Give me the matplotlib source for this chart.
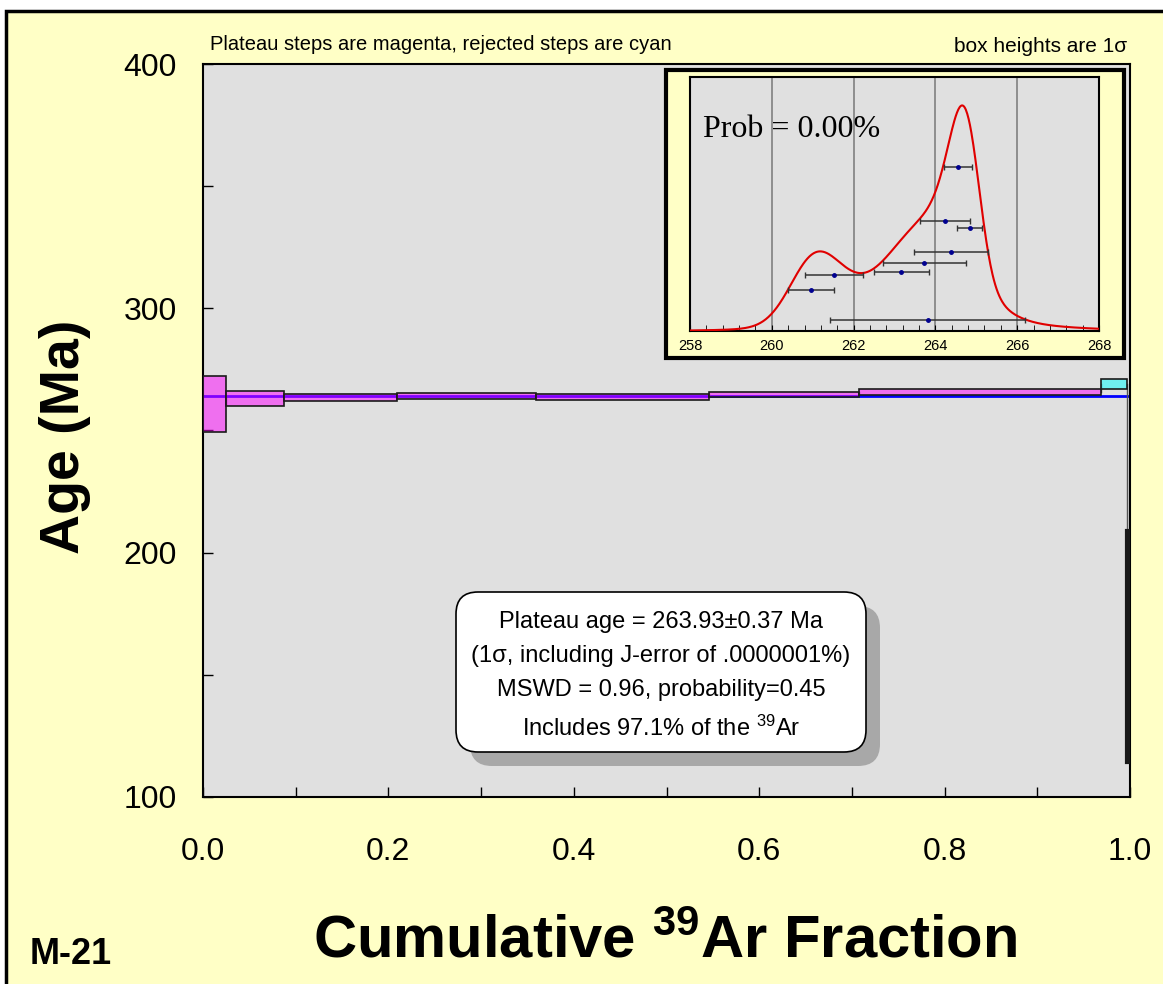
import numpy as np
import matplotlib
matplotlib.use("Agg")
import matplotlib.pyplot as plt
from matplotlib.patches import Rectangle, FancyBboxPatch
from matplotlib.ticker import MultipleLocator, FormatStrFormatter

plt.rcParams['font.family'] = ['Liberation Sans', 'DejaVu Sans']
plt.rcParams['mathtext.fontset'] = 'custom'
plt.rcParams['mathtext.rm'] = 'Liberation Sans'
plt.rcParams['mathtext.bf'] = 'Liberation Sans:bold'
plt.rcParams['mathtext.it'] = 'Liberation Sans:italic'

# step heating spectrum (cumulative 39Ar edges, age, 1 sigma)
cum_edges = [0.0, 0.0245, 0.0877, 0.2093, 0.3589, 0.5458, 0.7073, 0.9684, 0.9964, 1.0]
step_age = [260.8, 263.1, 263.45, 264.2, 263.75, 264.83, 265.8, 269.06, 161.5]
step_sig = [11.4, 2.9, 1.5, 1.15, 1.35, 0.94, 1.38, 1.9, 47.2]
in_plateau = [True, True, True, True, True, True, True, False, False]
plateau_age = 263.93

# inset: probability plot
inset_age = [264.55, 264.23, 264.84, 264.38, 263.73, 263.17, 261.52, 260.96, 263.81]
inset_err = [0.35, 0.61, 0.31, 0.90, 1.01, 0.68, 0.72, 0.57, 2.38]
inset_level = [0.645, 0.432, 0.404, 0.311, 0.268, 0.234, 0.222, 0.161, 0.045]

box_lines = ["Plateau age = 263.93\u00b10.37 Ma",
             "(1\u03c3, including J-error of .0000001%)",
             "MSWD = 0.96, probability=0.45",
             "Includes 97.1% of the $^{39}$Ar"]

W, H = 1163, 984
fig = plt.figure(figsize=(W / 100, H / 100), dpi=100)
fig.patch.set_facecolor('white')

# yellow page frame
bg = fig.add_axes([0, 0, 1, 1], zorder=0)
bg.set_xlim(0, W)
bg.set_ylim(H, 0)
bg.axis('off')
bg.add_patch(Rectangle((6, 11), W + 20, H + 20, facecolor='#FFFFC6',
                       edgecolor='black', lw=2.5))

# main spectrum axes
ax = fig.add_axes([203 / W, 1 - 797 / H, 927 / W, 733 / H], zorder=1)
ax.set_facecolor('#E0E0E0')
ax.set_xlim(0, 1)
ax.set_ylim(100, 400)

ax.hlines(plateau_age, 0, 1, color='blue', lw=2, zorder=2)

for i in range(len(step_age)):
    x0, x1 = cum_edges[i], cum_edges[i + 1]
    fc = (1, 0, 1, 0.5) if in_plateau[i] else (0, 1, 1, 0.5)
    # very narrow steps render as a solid dark bar
    lw = 3 if x1 - x0 < 0.005 else 1.2
    ax.add_patch(Rectangle((x0, step_age[i] - step_sig[i]), x1 - x0, 2 * step_sig[i],
                           facecolor=fc, edgecolor='#1a1a1a', lw=lw, zorder=3))
    if i < len(step_age) - 1:
        ax.plot([x1, x1], [step_age[i], step_age[i + 1]], color='#555555', lw=1, zorder=2.5)

ax.xaxis.set_major_locator(MultipleLocator(0.2))
ax.xaxis.set_minor_locator(MultipleLocator(0.1))
ax.xaxis.set_major_formatter(FormatStrFormatter('%.1f'))
ax.yaxis.set_major_locator(MultipleLocator(100))
ax.yaxis.set_minor_locator(MultipleLocator(50))
ax.tick_params(which='both', direction='in', length=7, width=1)
ax.tick_params(axis='x', labelsize=23, pad=29)
ax.tick_params(axis='y', labelsize=23, pad=19)
for sp in ax.spines.values():
    sp.set_linewidth(1.5)

fig.text(65 / W, 1 - 437 / H, "Age (Ma)", rotation=90, ha='center', va='center',
         fontsize=40, fontweight='bold')
fig.text(665 / W, 1 - 942 / H, r"Cumulative $^{\mathbf{39}}$Ar Fraction", ha='center',
         va='center', fontsize=43, fontweight='bold')
fig.text(30 / W, 1 - 955 / H, "M-21", ha='left', va='center', fontsize=26, fontweight='bold')
fig.text(210 / W, 1 - 45 / H, "Plateau steps are magenta, rejected steps are cyan",
         ha='left', va='center', fontsize=14.5)
fig.text(1127 / W, 1 - 46 / H, "box heights are 1\u03c3", ha='right', va='center', fontsize=15)

# overlay for result box and inset frame
ov = fig.add_axes([0, 0, 1, 1], zorder=5)
ov.set_xlim(0, W)
ov.set_ylim(H, 0)
ov.axis('off')
ov.patch.set_alpha(0)
ov.add_patch(FancyBboxPatch((470, 606), 410, 160, boxstyle="round,pad=0,rounding_size=22",
                            facecolor='#A8A8A8', edgecolor='none'))
ov.add_patch(FancyBboxPatch((456, 592), 410, 160, boxstyle="round,pad=0,rounding_size=22",
                            facecolor='white', edgecolor='black', lw=1.2))
for yy, line in zip([622, 656, 690, 728], box_lines):
    ov.text(661, yy, line, ha='center', va='center', fontsize=17)
ov.add_patch(Rectangle((666, 70), 458, 288, facecolor='#FFFFC6', edgecolor='black', lw=3))

# inset probability plot
ins = fig.add_axes([690 / W, 1 - 331 / H, 409 / W, 254 / H], zorder=6)
ins.set_facecolor('#E0E0E0')
xs = np.linspace(258, 268, 600)
dens = np.zeros_like(xs)
for a, s in zip(inset_age, inset_err):
    dens += np.exp(-0.5 * ((xs - a) / s) ** 2) / s
ytop = dens.max() / 0.888
ins.set_xlim(258, 268)
ins.set_ylim(0, ytop)
ins.plot(xs, dens, color='#E00000', lw=1.5, zorder=3)
ins.errorbar(inset_age, np.array(inset_level) * ytop, xerr=inset_err, fmt='o', ms=2.5,
             mfc='#000090', mec='#000090', ecolor='#333333', elinewidth=1.1,
             capsize=2, capthick=1, zorder=4)
ins.xaxis.set_major_locator(MultipleLocator(2))
ins.xaxis.set_minor_locator(MultipleLocator(0.4))
ins.set_yticks([])
ins.tick_params(which='both', direction='in', length=4, labelsize=10.5, pad=6)
ins.grid(axis='x', which='major', color='#808080', lw=1.2)
ins.set_axisbelow(True)
for sp in ins.spines.values():
    sp.set_linewidth(1.5)
ins.text(0.032, 0.795, "Prob = 0.00%", transform=ins.transAxes, ha='left', va='center',
         fontsize=23, family='Liberation Serif')

fig.savefig("out.png", dpi=100)
